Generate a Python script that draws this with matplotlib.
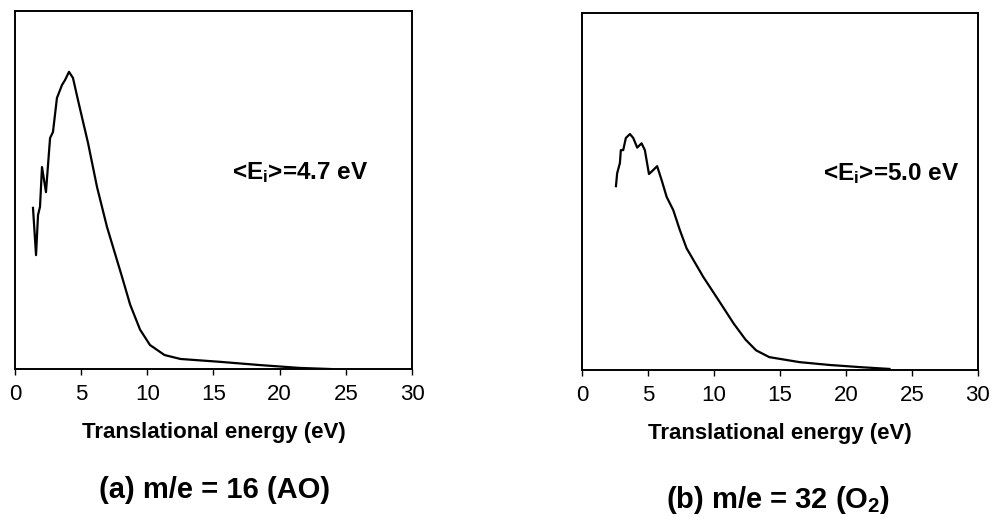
import matplotlib
matplotlib.use('Agg')
import matplotlib.pyplot as plt

plt.rcParams['font.family'] = ['Liberation Sans', 'DejaVu Sans']
plt.rcParams['mathtext.fontset'] = 'custom'
plt.rcParams['mathtext.rm'] = 'Liberation Sans:bold'
plt.rcParams['mathtext.it'] = 'Liberation Sans:bold'
plt.rcParams['mathtext.bf'] = 'Liberation Sans:bold'

# (a) m/e = 16, atomic oxygen
ao_energy = [1.36, 1.59, 1.74, 1.89, 2.04, 2.34, 2.65, 2.87, 3.17, 3.55, 3.78, 4.08,
             4.38, 4.76, 5.52, 6.20, 6.95, 8.09, 8.7, 9.45, 10.2, 11.3, 12.5, 15.5,
             18.5, 21.5, 23.8]
ao_signal = [0.450, 0.318, 0.430, 0.453, 0.564, 0.494, 0.645, 0.662, 0.757, 0.793, 0.807,
             0.830, 0.813, 0.751, 0.631, 0.508, 0.397, 0.257, 0.18, 0.11, 0.067, 0.039,
             0.028, 0.020, 0.011, 0.003, 0.0]

# (b) m/e = 32, O2
o2_energy = [2.58, 2.67, 2.88, 2.95, 3.13, 3.33, 3.64, 3.89, 4.19, 4.52, 4.77, 5.08,
             5.40, 5.70, 6.04, 6.42, 6.92, 7.42, 7.93, 9.19, 10.45, 11.5, 12.4, 13.2,
             14.2, 16.5, 18.8, 21.1, 23.3]
o2_signal = [0.515, 0.551, 0.580, 0.616, 0.616, 0.650, 0.661, 0.650, 0.623, 0.635, 0.616,
             0.549, 0.560, 0.571, 0.532, 0.485, 0.448, 0.392, 0.341, 0.261, 0.190, 0.130,
             0.085, 0.055, 0.036, 0.022, 0.014, 0.008, 0.003]

xticks = [0, 5, 10, 15, 20, 25, 30]
mean_labels = [r'<E$_\mathrm{i}$>=4.7 eV', r'<E$_\mathrm{i}$>=5.0 eV']
panel_titles = ['(a) m/e = 16 (AO)', r'(b) m/e = 32 (O$_\mathrm{2}$)']

fig = plt.figure(figsize=(9.93, 5.32), dpi=100)
ax1 = fig.add_axes([0.0151, 0.3064, 0.3998, 0.673])
ax2 = fig.add_axes([0.586, 0.3045, 0.3988, 0.671])

panels = [(ax1, ao_energy, ao_signal, mean_labels[0], 16.4),
          (ax2, o2_energy, o2_signal, mean_labels[1], 18.3)]

for ax, xs, ys, lab, tx in panels:
    ax.plot(xs, ys, color='black', linewidth=1.6)
    ax.set_xlim(0, 30)
    ax.set_ylim(0, 1)
    ax.set_xticks(xticks)
    ax.set_yticks([])
    ax.tick_params(axis='x', direction='out', length=4, width=1, labelsize=16, pad=7)
    for s in ax.spines.values():
        s.set_linewidth(1.4)
    ax.set_xlabel('Translational energy (eV)', fontsize=16, fontweight='bold', labelpad=12)
    ax.text(tx, 0.55, lab, fontsize=17.5, fontweight='bold', va='center', ha='left')

fig.text(215 / 993, 1 - 490 / 532, panel_titles[0], fontsize=21, fontweight='bold',
         ha='center', va='center')
fig.text(778 / 993, 1 - 500 / 532, panel_titles[1], fontsize=21, fontweight='bold',
         ha='center', va='center')

fig.savefig('out.png', dpi=100)
